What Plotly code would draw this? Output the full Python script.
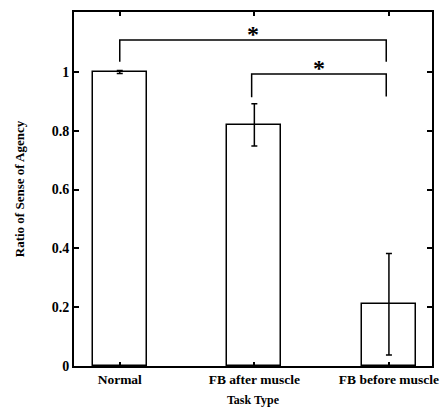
import plotly.graph_objects as go

categories = ["Normal", "FB after muscle", "FB before muscle"]
values = [1.0, 0.82, 0.21]
errors = [0.005, 0.072, 0.173]
y_ticks = [0, 0.2, 0.4, 0.6, 0.8, 1]

# significance brackets: (left x, right x, bar height, leg bottom left, leg bottom right)
brackets = [
    (0, 1.98, 1.109, 1.035, 1.035),
    (0.98, 1.98, 0.993, 0.914, 0.917),
]
stars = ["*", "*"]

x = list(range(len(categories)))
FONT = "Liberation Serif"

fig = go.Figure()
fig.add_trace(go.Bar(
    x=x, y=values, width=0.4,
    marker=dict(color="white", line=dict(color="black", width=1.5)),
    error_y=dict(type="data", array=errors, visible=True, color="black", thickness=1.5, width=3),
    showlegend=False,
))

for (xl, xr, yh, yl, yr), s in zip(brackets, stars):
    fig.add_trace(go.Scatter(
        x=[xl, xl, xr, xr], y=[yl, yh, yh, yr], mode="lines",
        line=dict(color="black", width=1.5), showlegend=False, hoverinfo="skip",
    ))
    fig.add_annotation(x=(xl + xr) / 2, y=yh, text="<b>" + s + "</b>", showarrow=False,
                       yanchor="bottom", yshift=-9, font=dict(family=FONT, size=24, color="black"))

fig.update_layout(
    width=440, height=407,
    margin=dict(l=74, r=8, t=12, b=41),
    paper_bgcolor="white", plot_bgcolor="white",
    font=dict(family=FONT, color="black"),
    bargap=0,
)
fig.update_xaxes(
    range=[-0.34, 2.32], tickvals=x, ticktext=["<b>%s</b>" % c for c in categories],
    tickfont=dict(family=FONT, size=13.5, color="black"),
    showline=True, linecolor="black", linewidth=2, mirror="ticks",
    ticks="inside", ticklen=4, tickwidth=1.5, tickcolor="black",
    showgrid=False, zeroline=False, automargin=False,
    title=dict(text="<b>Task Type</b>", font=dict(family=FONT, size=12, color="black"), standoff=9),
)
fig.update_yaxes(
    range=[0, 1.204], tickvals=y_ticks, ticktext=["<b>%g</b>" % v for v in y_ticks],
    tickfont=dict(family=FONT, size=14, color="black"),
    showline=True, linecolor="black", linewidth=2, mirror="ticks",
    ticks="inside", ticklen=5, tickwidth=1.5, tickcolor="black",
    showgrid=False, zeroline=False, automargin=False,
    title=dict(text="<b>Ratio of Sense of Agency</b>", font=dict(family=FONT, size=13, color="black"), standoff=24),
)

fig.write_html("out.html", config={"displayModeBar": False},
               post_script="document.body.style.margin='0';document.body.style.overflow='hidden';")
